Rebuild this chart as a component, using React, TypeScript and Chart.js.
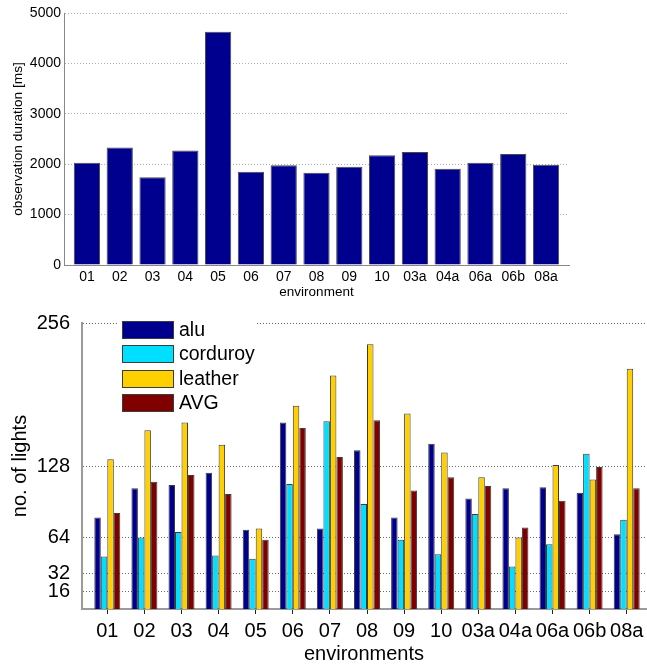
import React, { useEffect, useRef } from "react";
import { Chart, registerables } from "chart.js";

Chart.register(...registerables);

// ---- data ----
const environments = ["01", "02", "03", "04", "05", "06", "07", "08", "09", "10", "03a", "04a", "06a", "06b", "08a"];
const durationMs = [2030, 2330, 1740, 2270, 4630, 1850, 1980, 1830, 1950, 2180, 2240, 1910, 2030, 2200, 1990];
const durationTicks = [0, 1000, 2000, 3000, 4000, 5000];

const seriesNames = ["alu", "corduroy", "leather", "AVG"];
const alu = [82, 108, 111, 122, 71, 167, 72, 142, 82, 148, 99, 108, 109, 104, 67];
const corduroy = [47, 64, 69, 48, 45, 112, 168, 94, 62, 49, 85, 38, 58, 139, 80];
const leather = [134, 160, 167, 147, 72, 182, 209, 237, 175, 140, 118, 64, 129, 116, 215];
const avg = [86, 114, 120, 103, 62, 162, 136, 169, 106, 118, 110, 73, 97, 127, 108];
const lightTicks = [16, 32, 64, 128, 256];

const seriesColors = ["#00008F", "#00DFFF", "#FFCF00", "#800000"];
const FONT = "'Liberation Sans', Arial, Helvetica, sans-serif";

const toXY = (arr: number[]) => arr.map((v, i) => ({ x: i + 1, y: v }));

const insideLegend = {
  id: "insideLegend",
  afterDraw(chart: any) {
    const { ctx, chartArea } = chart;
    const left = chartArea.left;
    const top = chartArea.top;
    ctx.save();
    ctx.fillStyle = "#ffffff";
    ctx.fillRect(left + 36, top - 6, 139, 102);
    chart.data.datasets.forEach((ds: any, i: number) => {
      const y = Math.round(top - 2 + i * 24.4) + 0.5;
      const x = left + 40.5;
      ctx.fillStyle = ds.backgroundColor;
      ctx.fillRect(x, y, 51, 17);
      ctx.strokeStyle = "#3c3c3c";
      ctx.lineWidth = 1;
      ctx.strokeRect(x, y, 51, 17);
      ctx.fillStyle = "#000";
      ctx.font = `19.5px ${FONT}`;
      ctx.textBaseline = "middle";
      ctx.textAlign = "left";
      ctx.fillText(ds.label, left + 97, y + 9);
    });
    ctx.restore();
  },
};

export default function App() {
  const topRef = useRef<HTMLCanvasElement | null>(null);
  const botRef = useRef<HTMLCanvasElement | null>(null);

  useEffect(() => {
    const topChart = new Chart(topRef.current as HTMLCanvasElement, {
      type: "bar",
      data: {
        datasets: [
          {
            label: "observation duration",
            data: toXY(durationMs) as any,
            backgroundColor: "#00008F",
            borderColor: "#4a4a4a",
            borderWidth: 1,
            barPercentage: 0.8,
            categoryPercentage: 1,
          },
        ],
      },
      options: {
        animation: false,
        responsive: false,
        maintainAspectRatio: false,
        layout: { padding: { top: 13, right: 78, left: 0, bottom: 0 } },
        plugins: { legend: { display: false }, tooltip: { enabled: false } },
        scales: {
          x: {
            type: "linear",
            min: 0.3,
            max: 15.7,
            bounds: "data",
            offset: false,
            afterBuildTicks: (s: any) => {
              s.ticks = environments.map((_, i) => ({ value: i + 1 }));
            },
            afterFit: (s: any) => {
              s.height = 45;
              s.paddingLeft = 0;
              s.paddingRight = 0;
            },
            ticks: {
              autoSkip: false,
              maxRotation: 0,
              minRotation: 0,
              padding: 4,
              color: "#000",
              font: { family: FONT, size: 14 },
              callback: (v: any) => environments[Math.round(Number(v)) - 1] ?? "",
            },
            grid: { display: false, drawTicks: false, offset: false },
            border: { display: true, color: "#888", width: 1 },
            title: {
              display: true,
              text: "environment",
              color: "#000",
              font: { family: FONT, size: 13.5 },
              padding: { top: 0, bottom: 10 },
            },
          },
          y: {
            type: "linear",
            min: 0,
            max: 5000,
            afterBuildTicks: (s: any) => {
              s.ticks = durationTicks.map((v) => ({ value: v }));
            },
            afterFit: (s: any) => {
              s.width = 64;
              s.paddingTop = 0;
              s.paddingBottom = 0;
            },
            ticks: {
              padding: 3,
              color: "#000",
              font: { family: FONT, size: 14 },
              callback: (v: any) => String(v),
            },
            grid: { color: "#b0b0b0", lineWidth: 1, drawTicks: false },
            border: { display: true, color: "#888", width: 1, dash: [1, 2] },
            title: {
              display: true,
              text: "observation duration [ms]",
              color: "#000",
              font: { family: FONT, size: 13.7 },
              padding: { top: 10, bottom: 0 },
            },
          },
        },
      } as any,
    });

    const datasets = [alu, corduroy, leather, avg].map((arr, k) => ({
      label: seriesNames[k],
      data: toXY(arr) as any,
      backgroundColor: seriesColors[k],
      borderColor: "#3c3c3c",
      borderWidth: 1,
      barPercentage: 1,
      categoryPercentage: 0.7,
    }));

    const botChart = new Chart(botRef.current as HTMLCanvasElement, {
      type: "bar",
      data: { datasets },
      plugins: [insideLegend],
      options: {
        animation: false,
        responsive: false,
        maintainAspectRatio: false,
        layout: { padding: { top: 13, right: 1, left: 0, bottom: 0 } },
        plugins: { legend: { display: false }, tooltip: { enabled: false } },
        scales: {
          x: {
            type: "linear",
            min: 0.318,
            max: 15.52,
            bounds: "data",
            offset: false,
            afterBuildTicks: (s: any) => {
              s.ticks = environments.map((_, i) => ({ value: i + 1 }));
            },
            afterFit: (s: any) => {
              s.height = 57;
              s.paddingLeft = 0;
              s.paddingRight = 0;
            },
            ticks: {
              autoSkip: false,
              maxRotation: 0,
              minRotation: 0,
              padding: 5,
              color: "#000",
              font: { family: FONT, size: 20 },
              callback: (v: any) => environments[Math.round(Number(v)) - 1] ?? "",
            },
            grid: {
              display: true,
              offset: false,
              drawOnChartArea: false,
              drawTicks: true,
              tickLength: 5,
              tickColor: "#222",
              color: "#222",
            },
            border: { display: true, color: "#9a9a9a", width: 2 },
            title: {
              display: true,
              text: "environments",
              color: "#000",
              font: { family: FONT, size: 20 },
              padding: { top: 0, bottom: 0 },
            },
          },
          y: {
            type: "linear",
            min: 0,
            max: 256,
            afterBuildTicks: (s: any) => {
              s.ticks = lightTicks.map((v) => ({ value: v }));
            },
            afterFit: (s: any) => {
              s.width = 82;
              s.paddingTop = 0;
              s.paddingBottom = 0;
            },
            ticks: {
              padding: 12,
              color: "#000",
              font: { family: FONT, size: 20 },
            },
            grid: { color: "#666", lineWidth: 1, drawTicks: false },
            border: { display: true, color: "#9a9a9a", width: 2, dash: [1, 2] },
            title: {
              display: true,
              text: "no. of lights",
              color: "#000",
              font: { family: FONT, size: 20 },
              padding: { top: 8.5, bottom: 0 },
            },
          },
        },
      } as any,
    });

    return () => {
      topChart.destroy();
      botChart.destroy();
    };
  }, []);

  return (
    <div style={{ position: "absolute", left: 0, top: 0, width: 647, height: 666, background: "#fff" }}>
      <canvas
        ref={topRef}
        width={647}
        height={310}
        style={{ position: "absolute", left: 0, top: 0, width: 647, height: 310, display: "block" }}
      />
      <canvas
        ref={botRef}
        width={647}
        height={356}
        style={{ position: "absolute", left: 0, top: 310, width: 647, height: 356, display: "block" }}
      />
    </div>
  );
}
